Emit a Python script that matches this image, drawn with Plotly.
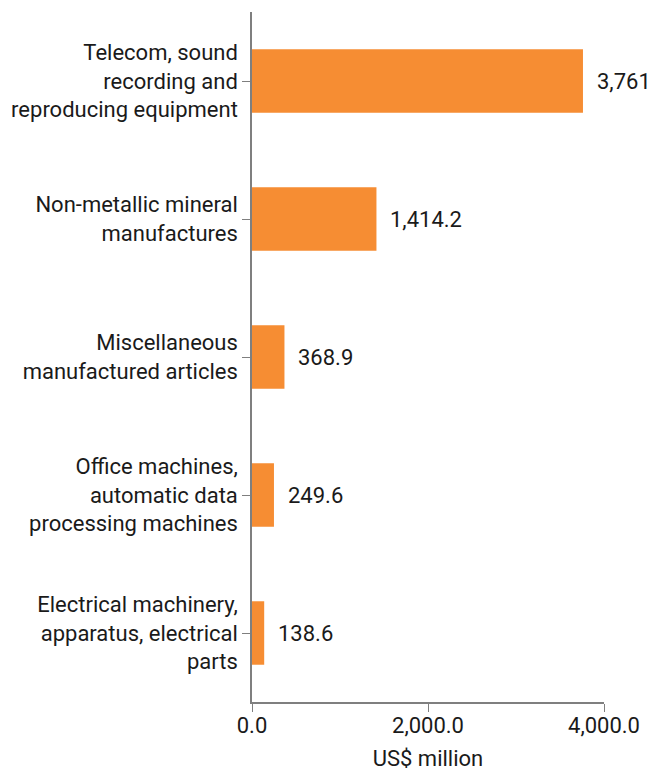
import plotly.graph_objects as go

categories = [
    "Telecom, sound<br>recording and<br>reproducing equipment",
    "Non-metallic mineral<br>manufactures",
    "Miscellaneous<br>manufactured articles",
    "Office machines,<br>automatic data<br>processing machines",
    "Electrical machinery,<br>apparatus, electrical<br>parts",
]
values = [3761, 1414.2, 368.9, 249.6, 138.6]
value_labels = ["3,761", "1,414.2", "368.9", "249.6", "138.6"]
x_ticks = [0, 2000, 4000]
x_tick_labels = ["0.0", "2,000.0", "4,000.0"]

bar_color = "#F68D33"
axis_color = "#7f7f7f"
text_color = "#1a1a1a"
font_family = "Roboto, sans-serif"
fs = 22

fig = go.Figure()
fig.add_trace(go.Bar(
    x=values,
    y=categories,
    orientation="h",
    marker=dict(color=bar_color, line=dict(width=0)),
    width=0.46,
    hoverinfo="skip",
))

for v, lbl, cat in zip(values, value_labels, categories):
    fig.add_annotation(
        x=v, y=cat, text=lbl, showarrow=False,
        xanchor="left", yanchor="middle", xshift=12,
        font=dict(family=font_family, size=fs, color=text_color),
    )

fig.update_layout(
    width=652, height=771,
    margin=dict(l=252, r=48, t=12, b=69),
    plot_bgcolor="white", paper_bgcolor="white",
    showlegend=False,
    font=dict(family=font_family, size=fs, color=text_color),
    xaxis=dict(
        range=[0, 4000],
        tickvals=x_ticks, ticktext=x_tick_labels,
        showgrid=False, zeroline=False,
        showline=True, linecolor=axis_color, linewidth=1.5,
        ticks="outside", ticklen=8, tickcolor=axis_color, tickwidth=1,
        tickfont=dict(size=fs, color=text_color),
        ticklabelstandoff=-5,
        title=dict(text="US$ million", font=dict(size=fs, color=text_color), standoff=20),
        automargin=False,
    ),
    yaxis=dict(
        categoryorder="array", categoryarray=categories,
        autorange="reversed",
        showgrid=False, zeroline=False,
        showline=True, linecolor=axis_color, linewidth=1.5,
        ticks="outside", ticklen=8, tickcolor=axis_color, tickwidth=1,
        tickfont=dict(size=fs, color=text_color),
        ticklabelstandoff=0,
        automargin=False,
    ),
)

fig.write_html("out.html")
